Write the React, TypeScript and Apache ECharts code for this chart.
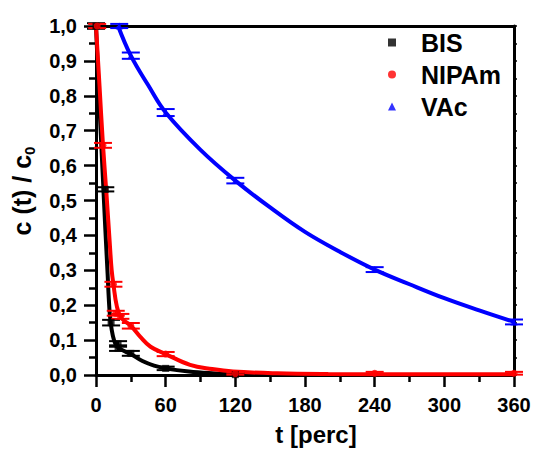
import React, { useEffect, useRef } from "react";
import * as echarts from "echarts";

// measured points (t in minutes, c/c0)
const bisT = [0, 8, 13, 19, 19, 30, 60, 120];
const bisV = [1.0, 0.532, 0.15, 0.089, 0.077, 0.062, 0.019, 0.001];
const bisErr = [0.008, 0.006, 0.008, 0.008, 0.008, 0.007, 0.005, 0.003];

const nipT = [1, 6, 15, 17, 21, 30, 60, 120, 240, 360];
const nipV = [1.0, 0.658, 0.26, 0.177, 0.168, 0.141, 0.06, 0.004, 0.005, 0.005];
const nipErr = [0.006, 0.007, 0.007, 0.007, 0.007, 0.008, 0.006, 0.003, 0.004, 0.004];

const vacT = [20, 30, 60, 120, 240, 360];
const vacV = [1.0, 0.915, 0.752, 0.557, 0.302, 0.152];
const vacErr = [0.006, 0.009, 0.01, 0.008, 0.007, 0.007];

// fitted curves
const bisFitT = [0, 3, 6, 8, 10, 11, 12, 13.5, 15.5, 18, 22, 30, 40, 50, 60, 80, 100, 120, 150, 200];
const bisFitV = [1.0, 0.77, 0.56, 0.42, 0.29, 0.22, 0.17, 0.13, 0.1, 0.082, 0.072, 0.06, 0.04, 0.027, 0.019, 0.01, 0.005, 0.002, 0.0005, 0];

const nipFitT = [0, 3, 6, 9, 12, 13.5, 15, 18, 22, 30, 38, 47, 60, 81, 100, 118, 156, 200, 280, 360];
const nipFitV = [1.0, 0.83, 0.66, 0.52, 0.37, 0.3, 0.26, 0.196, 0.163, 0.141, 0.11, 0.081, 0.06, 0.029, 0.017, 0.01, 0.005, 0.003, 0.002, 0.002];

const vacFitT = [19, 30, 45, 60, 90, 120, 150, 180, 210, 240, 270, 300, 330, 360];
const vacFitV = [1.0, 0.915, 0.83, 0.752, 0.645, 0.557, 0.48, 0.41, 0.353, 0.302, 0.26, 0.22, 0.185, 0.152];

const xTicks = [0, 60, 120, 180, 240, 300, 360];

const FONT = "'Liberation Sans', Arial, Helvetica, sans-serif";
const BLACK = "#000000";
const RED = "#ff0000";
const BLUE = "#0000ff";

const zip = (a: number[], b: number[], c?: number[]) =>
  a.map((v, i) => (c ? [v, b[i], c[i]] : [v, b[i]]));

function errorBars(name: string, color: string, t: number[], v: number[], e: number[]) {
  return {
    type: "custom",
    name,
    z: 4,
    clip: false,
    data: zip(t, v, e),
    renderItem: (params: any, api: any) => {
      const x = api.value(0);
      const y = api.value(1);
      const err = api.value(2);
      const top = api.coord([x, y + err]);
      const bot = api.coord([x, y - err]);
      const hw = 9;
      const st = { stroke: color, lineWidth: 2 };
      return {
        type: "group",
        children: [
          { type: "line", shape: { x1: top[0], y1: top[1], x2: bot[0], y2: bot[1] }, style: st },
          { type: "line", shape: { x1: top[0] - hw, y1: top[1], x2: top[0] + hw, y2: top[1] }, style: st },
          { type: "line", shape: { x1: bot[0] - hw, y1: bot[1], x2: bot[0] + hw, y2: bot[1] }, style: st },
        ],
      };
    },
  };
}

function fitLine(name: string, color: string, t: number[], v: number[], z: number) {
  return {
    type: "line",
    name,
    data: zip(t, v),
    smooth: 0.4,
    showSymbol: false,
    symbol: "none",
    z,
    lineStyle: { color, width: 4 },
    itemStyle: { color },
  };
}

function markers(name: string, color: string, symbol: string, t: number[], v: number[]) {
  return {
    type: "scatter",
    name,
    data: zip(t, v),
    symbol,
    symbolSize: 7,
    z: 5,
    itemStyle: { color },
  };
}

export default function App() {
  const ref = useRef<HTMLDivElement>(null);
  useEffect(() => {
    if (!ref.current) return;
    const chart = echarts.init(ref.current, null, { renderer: "svg" });
    const axisLine = { show: true, onZero: false, lineStyle: { color: BLACK, width: 3 } };
    const label = { color: BLACK, fontSize: 20, fontWeight: "bold", fontFamily: FONT };
    chart.setOption({
      animation: false,
      backgroundColor: "#ffffff",
      grid: { left: 96, right: 20, top: 26, bottom: 75, containLabel: false },
      legend: {
        orient: "vertical",
        left: 383,
        top: 25,
        itemWidth: 48,
        itemHeight: 8,
        itemGap: 7,
        symbolKeepAspect: true,
        textStyle: { color: BLACK, fontSize: 25, fontWeight: "bold", fontFamily: FONT },
        data: [
          { name: "BIS", icon: "path://M0,0L10,0L10,10L0,10Z", itemStyle: { color: BLACK } },
          { name: "NIPAm", icon: "path://M5,0A5,5,0,1,1,5,10A5,5,0,1,1,5,0Z", itemStyle: { color: RED } },
          { name: "VAc", icon: "path://M5,0L10,10L0,10Z", itemStyle: { color: BLUE } },
        ],
      },
      xAxis: [
        {
          type: "value",
          min: 0,
          max: 360,
          interval: 60,
          position: "bottom",
          axisLine,
          axisTick: { show: true, length: 12, lineStyle: { color: BLACK, width: 2.5 } },
          minorTick: { show: true, splitNumber: 2, length: 7, lineStyle: { color: BLACK, width: 2.5 } },
          splitLine: { show: false },
          minorSplitLine: { show: false },
          axisLabel: { ...label, margin: 20, formatter: (v: number) => (xTicks.includes(v) ? String(v) : "") },
        },
        {
          type: "value",
          min: 0,
          max: 360,
          interval: 60,
          position: "top",
          axisLine,
          axisTick: { show: false },
          axisLabel: { show: false },
          splitLine: { show: false },
        },
      ],
      yAxis: [
        {
          type: "value",
          min: 0,
          max: 1,
          interval: 0.1,
          position: "left",
          axisLine,
          axisTick: { show: true, length: 12, lineStyle: { color: BLACK, width: 2.5 } },
          minorTick: { show: true, splitNumber: 2, length: 7, lineStyle: { color: BLACK, width: 2.5 } },
          splitLine: { show: false },
          minorSplitLine: { show: false },
          axisLabel: { ...label, margin: 19, formatter: (v: number) => v.toFixed(1).replace(".", ",") },
        },
        {
          type: "value",
          min: 0,
          max: 1,
          interval: 0.05,
          position: "right",
          axisLine,
          axisTick: { show: true, length: 3, lineStyle: { color: BLACK, width: 1.5 } },
          axisLabel: { show: false },
          splitLine: { show: false },
        },
      ],
      graphic: [
        {
          type: "text",
          x: 22,
          y: 191,
          rotation: Math.PI / 2,
          style: {
            text: "c (t) / c{s|0}",
            fill: BLACK,
            font: `bold 25px ${FONT}`,
            align: "center",
            verticalAlign: "middle",
            lineHeight: 30,
            rich: {
              s: { fontSize: 15, fontWeight: "bold", fontFamily: FONT, fill: BLACK, lineHeight: 30, verticalAlign: "bottom" },
            },
          },
        },
        {
          type: "text",
          x: 316,
          y: 434,
          style: {
            text: "t [perc]",
            fill: BLACK,
            font: `bold 24px ${FONT}`,
            align: "center",
            verticalAlign: "middle",
          },
        },
      ],
      series: [
        fitLine("BIS fit", BLACK, bisFitT, bisFitV, 2),
        fitLine("NIPAm fit", RED, nipFitT, nipFitV, 2),
        fitLine("VAc fit", BLUE, vacFitT, vacFitV, 2),
        errorBars("BIS err", BLACK, bisT, bisV, bisErr),
        errorBars("NIPAm err", RED, nipT, nipV, nipErr),
        errorBars("VAc err", BLUE, vacT, vacV, vacErr),
        markers("BIS", BLACK, "rect", bisT, bisV),
        markers("NIPAm", RED, "circle", nipT, nipV),
        markers("VAc", BLUE, "triangle", vacT, vacV),
      ],
    });
    return () => chart.dispose();
  }, []);
  return <div ref={ref} style={{ width: 534, height: 450, position: "absolute", left: 0, top: 0 }} />;
}
